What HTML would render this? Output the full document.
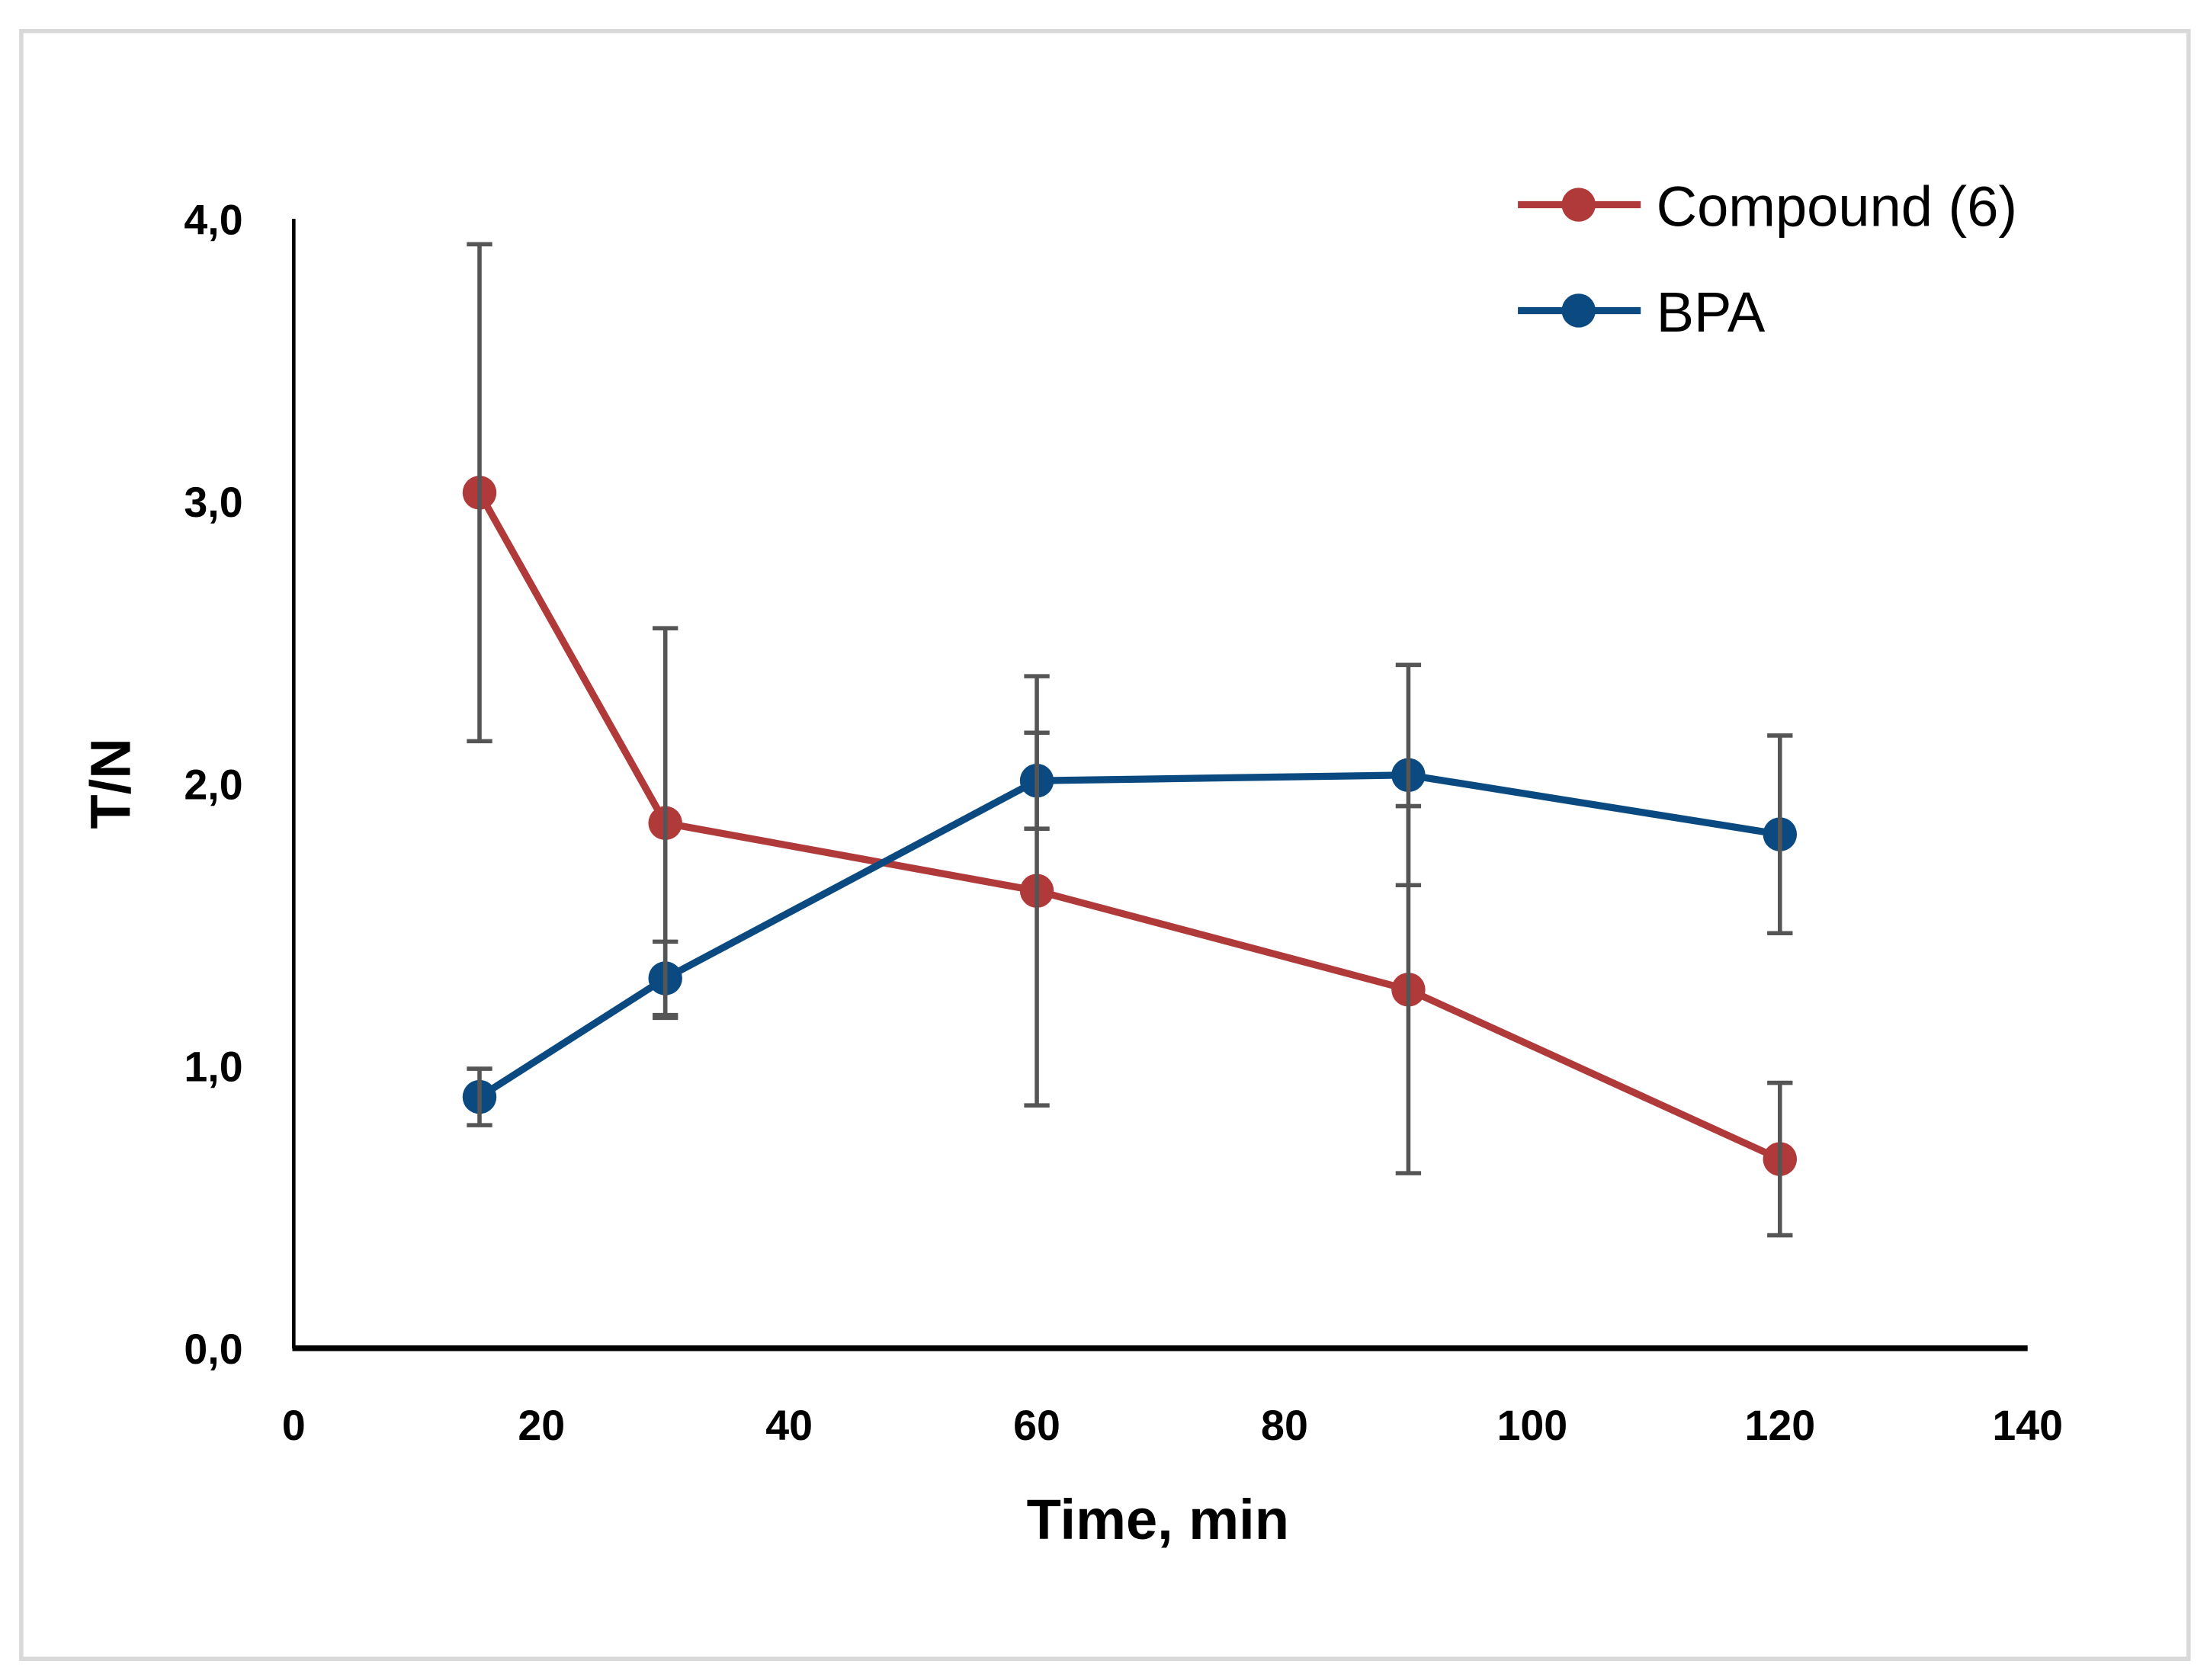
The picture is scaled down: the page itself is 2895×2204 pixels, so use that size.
<!DOCTYPE html>
<html><head><meta charset="utf-8"><style>
html,body{margin:0;padding:0;background:#fff;}
svg{display:block;font-family:"Liberation Sans",sans-serif;}
</style></head><body>
<svg id="chart" width="2895" height="2204" viewBox="0 0 1563 1190">
<rect x="15" y="22" width="1535" height="1153" fill="#fff" stroke="#d9d9d9" stroke-width="3"/>
<g id="plot"></g>
<line x1="208" y1="155" x2="208" y2="955" stroke="#000" stroke-width="2.5"/>
<line x1="207" y1="955" x2="1436" y2="955" stroke="#000" stroke-width="4"/>
<text x="820" y="1090" font-size="40" font-weight="bold" text-anchor="middle">Time, min</text>
<text transform="translate(92,555) rotate(-90)" font-size="40" font-weight="bold" text-anchor="middle">T/N</text>
<g>
<line x1="1075" y1="145" x2="1162" y2="145" stroke="#b03a3a" stroke-width="5"/>
<circle cx="1118" cy="145" r="12" fill="#b03a3a"/>
<text x="1173" y="160" font-size="40">Compound (6)</text>
<line x1="1075" y1="220" x2="1162" y2="220" stroke="#0a4a80" stroke-width="5"/>
<circle cx="1118" cy="220" r="12" fill="#0a4a80"/>
<text x="1173" y="235" font-size="40">BPA</text>
</g>
</svg>
<script>
const times = [15, 30, 60, 90, 120];
const compoundValues = [3.03, 1.86, 1.62, 1.27, 0.67];
const compoundErrors = [0.88, 0.69, 0.76, 0.65, 0.27];
const bpaValues = [0.89, 1.31, 2.01, 2.03, 1.82];
const bpaErrors = [0.10, 0.13, 0.17, 0.39, 0.35];
const xTicks = [0, 20, 40, 60, 80, 100, 120, 140];
const yTicks = [0, 1, 2, 3, 4];
const yTickLabels = ["0,0", "1,0", "2,0", "3,0", "4,0"];

const NS = "http://www.w3.org/2000/svg";
function xs(v){ return 208 + (v - 0) * (1436 - 208) / 140; }
function ys(v){ return 955 - v * 200; }
const svg = document.getElementById('chart');
const plot = document.getElementById('plot');
function mk(tag, attrs, parent){
  const e = document.createElementNS(NS, tag);
  for (const k in attrs) e.setAttribute(k, attrs[k]);
  (parent || plot).appendChild(e);
  return e;
}
xTicks.forEach(t => {
  const e = mk('text', {x: xs(t), y: 1020, 'font-size': 30, 'font-weight': 'bold', 'text-anchor': 'middle'}, svg);
  
  
  e.textContent = t;
});
yTicks.forEach((t, i) => {
  const e = mk('text', {x: 172, y: ys(t) + 11, 'font-size': 30, 'font-weight': 'bold', 'text-anchor': 'end'}, svg);
  
  
  e.textContent = yTickLabels[i];
});
function errorBars(vals, errs, name){
  vals.forEach((v, i) => {
    const x = xs(times[i]);
    const g = mk('g', {stroke: '#555', 'stroke-width': 3});
    
    
    mk('line', {x1: x, x2: x, y1: ys(v + errs[i]), y2: ys(v - errs[i])}, g);
    mk('line', {x1: x - 9, x2: x + 9, y1: ys(v + errs[i]), y2: ys(v + errs[i])}, g);
    mk('line', {x1: x - 9, x2: x + 9, y1: ys(v - errs[i]), y2: ys(v - errs[i])}, g);
  });
}
function series(vals, color, name){
  const pts = vals.map((v, i) => xs(times[i]) + ',' + ys(v)).join(' ');
  const l = mk('polyline', {points: pts, fill: 'none', stroke: color, 'stroke-width': 5});
  
  
  vals.forEach((v, i) => {
    const c = mk('circle', {cx: xs(times[i]), cy: ys(v), r: 12, fill: color});
    
    
  });
}
series(compoundValues, '#b03a3a', 'compound');
series(bpaValues, '#0a4a80', 'bpa');
errorBars(compoundValues, compoundErrors, 'compound');
errorBars(bpaValues, bpaErrors, 'bpa');
</script>
</body></html>
